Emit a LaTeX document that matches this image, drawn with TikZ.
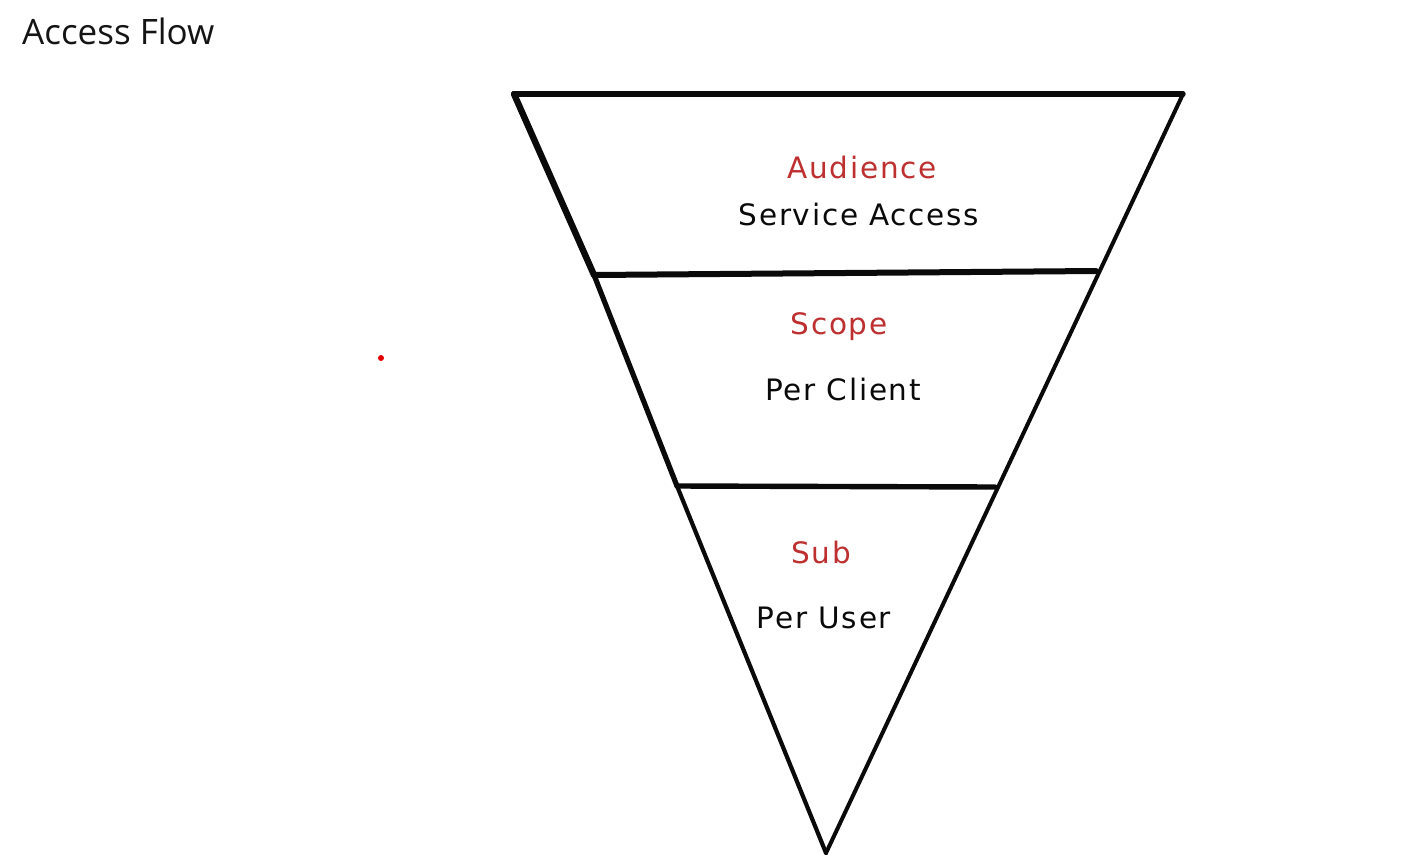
\documentclass[tikz,border=0pt]{standalone}
\usepackage{fontspec}
\setmainfont{Open Sans}
\newfontfamily\labelfont[LetterSpace=6]{DejaVu Sans}
\definecolor{labelred}{RGB}{190,48,48}
\definecolor{inkblack}{RGB}{10,10,10}
\tikzset{
  heading/.style={anchor=west, font=\fontsize{35}{38}\selectfont, text=black!92, inner sep=0pt},
  redlabel/.style={font=\labelfont\fontsize{29.5}{32}\selectfont, text=labelred, inner sep=0pt},
  blacklabel/.style={font=\labelfont\fontsize{29.5}{32}\selectfont, text=inkblack, inner sep=0pt},
  edge/.style={draw=inkblack, line cap=round, line join=round},
}
\begin{document}
\begin{tikzpicture}[x=1pt,y=-1pt]
  \useasboundingbox (0,0) rectangle (1410,862);
  \fill[white] (0,0) rectangle (1410,862);

  % title
  \node[heading] (title) at (22,31) {Access Flow};

  % funnel outline
  \coordinate (tl) at (514,94);
  \coordinate (tr) at (1183,94);
  \coordinate (tip) at (826,853);
  \coordinate (d1l) at (594,275);
  \coordinate (d1r) at (1096,271);
  \coordinate (d2l) at (677,486);
  \coordinate (d2r) at (995,487);

  \draw[edge, line width=5.4pt] (tl) -- (tr);
  \draw[edge, line width=6.4pt] (tl) -- (d1l);
  \draw[edge, line width=5.2pt] (d1l) -- (d2l);
  \draw[edge, line width=4.2pt] (d2l) -- (tip);
  \draw[edge, line width=4pt] (tr) -- (tip);
  \draw[edge, line width=6pt] (d1l) -- (d1r);
  \draw[edge, line width=5.4pt] (d2l) -- (d2r);

  % band labels
  \node[redlabel] (aud) at (862,167) {Audience};
  \node[blacklabel] (svc) at (859,214) {Service Access};
  \node[redlabel] (scope) at (839,327) {Scope};
  \node[blacklabel] (client) at (843,389) {Per Client};
  \node[redlabel] (sub) at (821,552) {Sub};
  \node[blacklabel] (user) at (824,618) {Per User};

  % stray marker dot
  \fill[red!90!black] (381,358) circle (3);
\end{tikzpicture}
\end{document}
